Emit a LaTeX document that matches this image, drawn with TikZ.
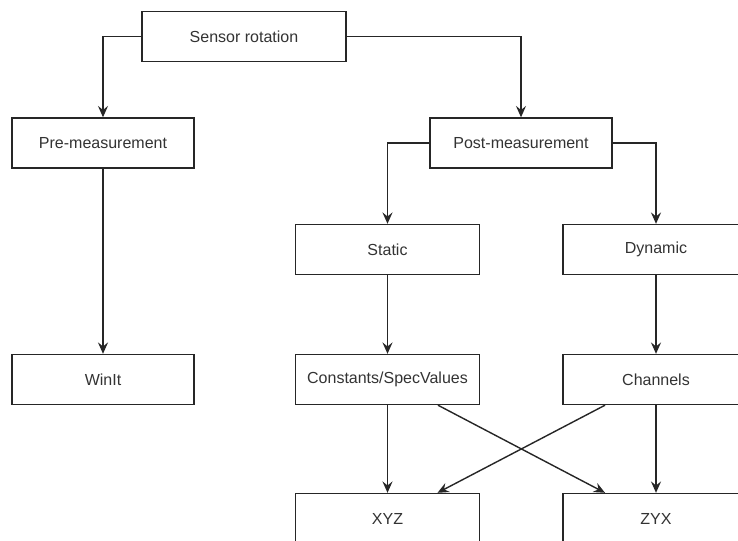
\documentclass[tikz,border=0pt]{standalone}
\usepackage{fontspec}
\setmainfont{Liberation Sans}
\usetikzlibrary{arrows.meta,calc}
\begin{document}
\begin{tikzpicture}[x=0.75pt,y=-0.75pt,
  box/.style={draw=black!85,line width=1.05pt,fill=white,text=black!80,
    font=\fontsize{12}{14}\selectfont,inner sep=0pt,
    minimum width=#1*0.75pt,minimum height=37.5pt},
  box/.default=182,
  arr/.style={draw=black!85,line width=1.05pt,
    -{Stealth[length=8.5pt,width=7.5pt,inset=3pt]}}]
\path[use as bounding box,clip] (0,0) rectangle (738,540);
\fill[white] (0,0) rectangle (738,540);
\node[box=204] (sr) at (244,36.5) {Sensor rotation};
\node[box] (pre) at (103,143) {Pre-measurement};
\node[box] (post) at (521,143) {Post-measurement};
\node[box=184] (static) at (387.5,249.5) {Static};
\node[box=186] (dyn) at (656,249.5) {Dynamic};
\node[box] (winit) at (103,379.5) {WinIt};
\node[box=184] (const) at (387.5,379.5) {Constants/SpecValues};
\node[box=186] (chan) at (656,379.5) {Channels};
\node[box=184] (xyz) at (387.5,518.5) {XYZ};
\node[box=186] (zyx) at (656,518.5) {ZYX};
\draw[arr] (sr.west) -| (pre.north);
\draw[arr] (sr.east) -| (post.north);
\draw[arr] (post.west) -| (static.north);
\draw[arr] (post.east) -| (dyn.north);
\draw[arr] (pre.south) -- (winit.north);
\draw[arr] (static.south) -- (const.north);
\draw[arr] (dyn.south) -- (chan.north);
\draw[arr] (const.south) -- (xyz.north);
\draw[arr] (chan.south) -- (zyx.north);
\draw[arr] ($(const.south)+(50.5,0)$) -- ($(zyx.north)+(-51,0)$);
\draw[arr] ($(chan.south)+(-51,0)$) -- ($(xyz.north)+(50,0)$);
\end{tikzpicture}
\end{document}
